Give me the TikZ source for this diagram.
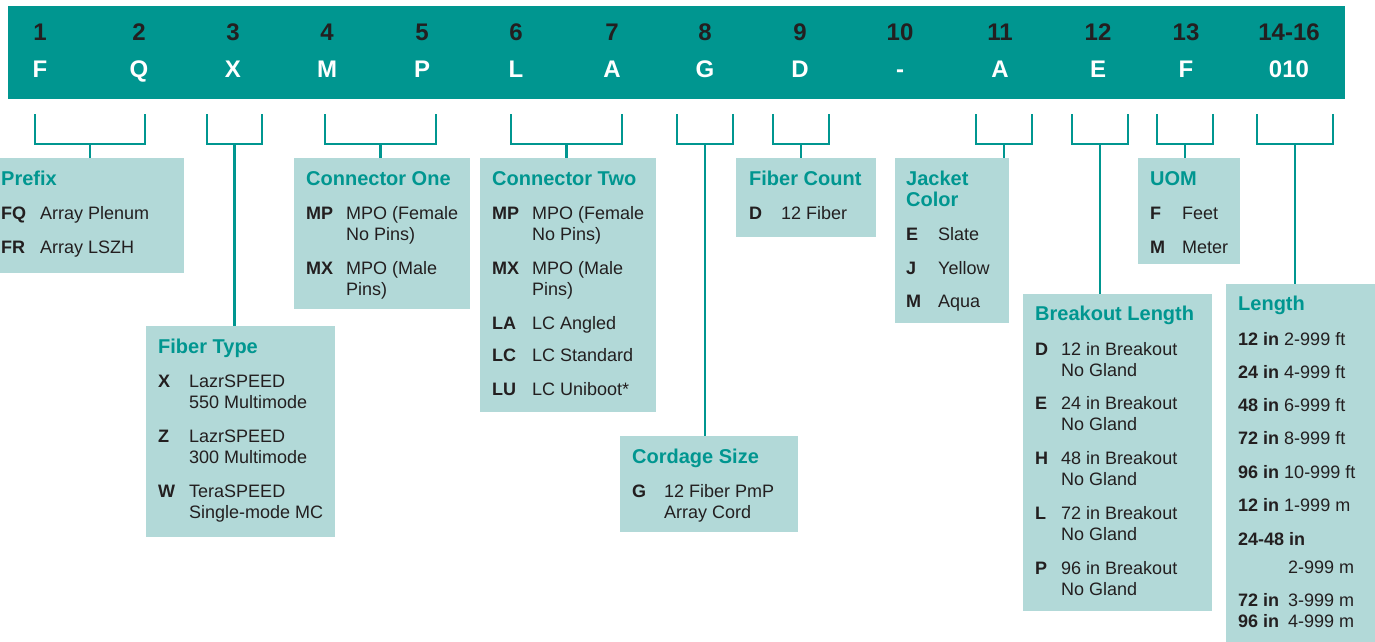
\documentclass[tikz,border=0pt]{standalone}
\usepackage{fontspec}
\setmainfont{Liberation Sans}
\definecolor{tealbar}{RGB}{0,150,144}
\definecolor{boxfill}{RGB}{178,217,216}
\definecolor{txtdark}{RGB}{35,31,32}
\tikzset{
  bx/.style={fill=boxfill, draw=none, inner sep=0pt, anchor=north west},
  ttl/.style={anchor=base west, inner sep=0pt, text=tealbar, font=\fontsize{20}{24}\selectfont\bfseries},
  tx/.style={anchor=base west, inner sep=0pt, text=txtdark, font=\fontsize{18}{21}\selectfont},
  cd/.style={anchor=base west, inner sep=0pt, text=txtdark, font=\fontsize{18}{21}\selectfont\bfseries},
  ln/.style={draw=tealbar, line width=2.6pt, line join=miter},
  dig/.style={anchor=base, inner sep=0pt, text=txtdark, font=\fontsize{24}{27}\selectfont\bfseries},
  let/.style={anchor=base, inner sep=0pt, text=white, font=\fontsize{24}{27}\selectfont\bfseries},
}
\begin{document}
\begin{tikzpicture}[x=1pt,y=-1pt]
\useasboundingbox (0,0) rectangle (1375,641);
% top bar
\node[bx, fill=tealbar, minimum width=1337pt, minimum height=93pt] (bar) at (8,6) {};
\foreach \px/\d/\l [count=\i] in {40/1/F, 139/2/Q, 233/3/X, 327/4/M, 422/5/P, 516/6/L, 612/7/A, 705/8/G, 800/9/D, 900/10/-, 1000/11/A, 1098/12/E, 1186/13/F, 1289/14-16/010}{
  \node[dig] (d\i) at (\px,40) {\d};
  \node[let] (l\i) at (\px,77) {\l};
}
% boxes
\node[bx, minimum width=196pt, minimum height=115pt] (prefix) at (-12,158) {};
\node[bx, minimum width=176pt, minimum height=151pt] (conone) at (294,158) {};
\node[bx, minimum width=189pt, minimum height=211pt] (fibtype) at (146,326) {};
\node[bx, minimum width=176pt, minimum height=254pt] (contwo) at (480,158) {};
\node[bx, minimum width=178pt, minimum height=96pt] (cordage) at (620,436) {};
\node[bx, minimum width=140pt, minimum height=79pt] (fibcount) at (736,158) {};
\node[bx, minimum width=114pt, minimum height=165pt] (jacket) at (895,158) {};
\node[bx, minimum width=102pt, minimum height=106pt] (uom) at (1138,158) {};
\node[bx, minimum width=189pt, minimum height=317pt] (breakout) at (1023,294) {};
\node[bx, minimum width=160pt, minimum height=370pt] (length) at (1226,284) {};
% brackets and stems
\foreach \a/\b/\t [count=\i] in {35/145/prefix, 207/262/fibtype, 325/436/conone, 511/622/contwo, 677/733/cordage, 773/829/fibcount, 976/1032/jacket, 1072/1128/breakout, 1157/1213/uom, 1257/1333/length}{
  \coordinate (ba\i) at (\a,114);
  \coordinate (bb\i) at (\b,114);
  \coordinate (bm\i) at ({(\a+\b)/2},144);
  \draw[ln] (ba\i) -- (ba\i |- bm\i) -- (bb\i |- bm\i) -- (bb\i);
  \draw[ln] (bm\i) -- (bm\i |- \t.north);
}
% Prefix
\node[ttl] (prefixT) at (1,185) {Prefix};
\node[cd] (pfq) at (1,219) {FQ}; \node[tx] (pfqd) at (40,219) {Array Plenum};
\node[cd] (pfr) at (1,253) {FR}; \node[tx] (pfrd) at (40,253) {Array LSZH};
% Connector One
\node[ttl] (c1T) at (306,185) {Connector One};
\node[cd] (c1mp) at (306,219) {MP}; \node[tx] (c1mpa) at (346,219) {MPO (Female}; \node[tx] (c1mpb) at (346,240) {No Pins)};
\node[cd] (c1mx) at (306,274) {MX}; \node[tx] (c1mxa) at (346,274) {MPO (Male}; \node[tx] (c1mxb) at (346,295) {Pins)};
% Fiber Type
\node[ttl] (ftT) at (158,353) {Fiber Type};
\node[cd] (ftx) at (158,387) {X}; \node[tx] (ftxa) at (189,387) {LazrSPEED}; \node[tx] (ftxb) at (189,408) {550 Multimode};
\node[cd] (ftz) at (158,442) {Z}; \node[tx] (ftza) at (189,442) {LazrSPEED}; \node[tx] (ftzb) at (189,463) {300 Multimode};
\node[cd] (ftw) at (158,497) {W}; \node[tx] (ftwa) at (189,497) {TeraSPEED}; \node[tx] (ftwb) at (189,518) {Single-mode MC};
% Connector Two
\node[ttl] (c2T) at (492,185) {Connector Two};
\node[cd] (c2mp) at (492,219) {MP}; \node[tx] (c2mpa) at (532,219) {MPO (Female}; \node[tx] (c2mpb) at (532,240) {No Pins)};
\node[cd] (c2mx) at (492,274) {MX}; \node[tx] (c2mxa) at (532,274) {MPO (Male}; \node[tx] (c2mxb) at (532,295) {Pins)};
\node[cd] (c2la) at (492,329) {LA}; \node[tx] (c2lad) at (532,329) {LC Angled};
\node[cd] (c2lc) at (492,361) {LC}; \node[tx] (c2lcd) at (532,361) {LC Standard};
\node[cd] (c2lu) at (492,395) {LU}; \node[tx] (c2lud) at (532,395) {LC Uniboot*};
% Cordage Size
\node[ttl] (csT) at (632,463) {Cordage Size};
\node[cd] (csg) at (632,497) {G}; \node[tx] (csga) at (664,497) {12 Fiber PmP}; \node[tx] (csgb) at (664,518) {Array Cord};
% Fiber Count
\node[ttl] (fcT) at (749,185) {Fiber Count};
\node[cd] (fcd) at (749,219) {D}; \node[tx] (fcdd) at (781,219) {12 Fiber};
% Jacket Color
\node[ttl] (jcT1) at (906,185) {Jacket};
\node[ttl] (jcT2) at (906,206) {Color};
\node[cd] (jce) at (906,240) {E}; \node[tx] (jced) at (938,240) {Slate};
\node[cd] (jcj) at (906,274) {J}; \node[tx] (jcjd) at (938,274) {Yellow};
\node[cd] (jcm) at (906,307) {M}; \node[tx] (jcmd) at (938,307) {Aqua};
% UOM
\node[ttl] (uT) at (1150,185) {UOM};
\node[cd] (uf) at (1150,219) {F}; \node[tx] (ufd) at (1182,219) {Feet};
\node[cd] (um) at (1150,253) {M}; \node[tx] (umd) at (1182,253) {Meter};
% Breakout Length
\node[ttl] (blT) at (1035,320) {Breakout Length};
\foreach \c/\n/\yy [count=\i] in {D/12/355, E/24/409, H/48/464, L/72/519, P/96/574}{
  \node[cd] (blc\i) at (1035,\yy) {\c};
  \node[tx] (bla\i) at (1061,\yy) {\n{} in Breakout};
  \node[tx] (blb\i) at (1061,\yy+21) {No Gland};
}
% Length
\node[ttl] (lT) at (1238,310) {Length};
\node[tx] (l1) at (1238,345) {\bfseries 12 in\mdseries{} 2-999 ft};
\node[tx] (l2) at (1238,378) {\bfseries 24 in\mdseries{} 4-999 ft};
\node[tx] (l3) at (1238,411) {\bfseries 48 in\mdseries{} 6-999 ft};
\node[tx] (l4) at (1238,444) {\bfseries 72 in\mdseries{} 8-999 ft};
\node[tx] (l5) at (1238,478) {\bfseries 96 in\mdseries{} 10-999 ft};
\node[tx] (l6) at (1238,511) {\bfseries 12 in\mdseries{} 1-999 m};
\node[cd] (l7) at (1238,545) {24-48 in};
\node[tx] (l7b) at (1288,573) {2-999 m};
\node[cd] (l8) at (1238,606) {72 in}; \node[tx] (l8b) at (1288,606) {3-999 m};
\node[cd] (l9) at (1238,627) {96 in}; \node[tx] (l9b) at (1288,627) {4-999 m};
\end{tikzpicture}
\end{document}
